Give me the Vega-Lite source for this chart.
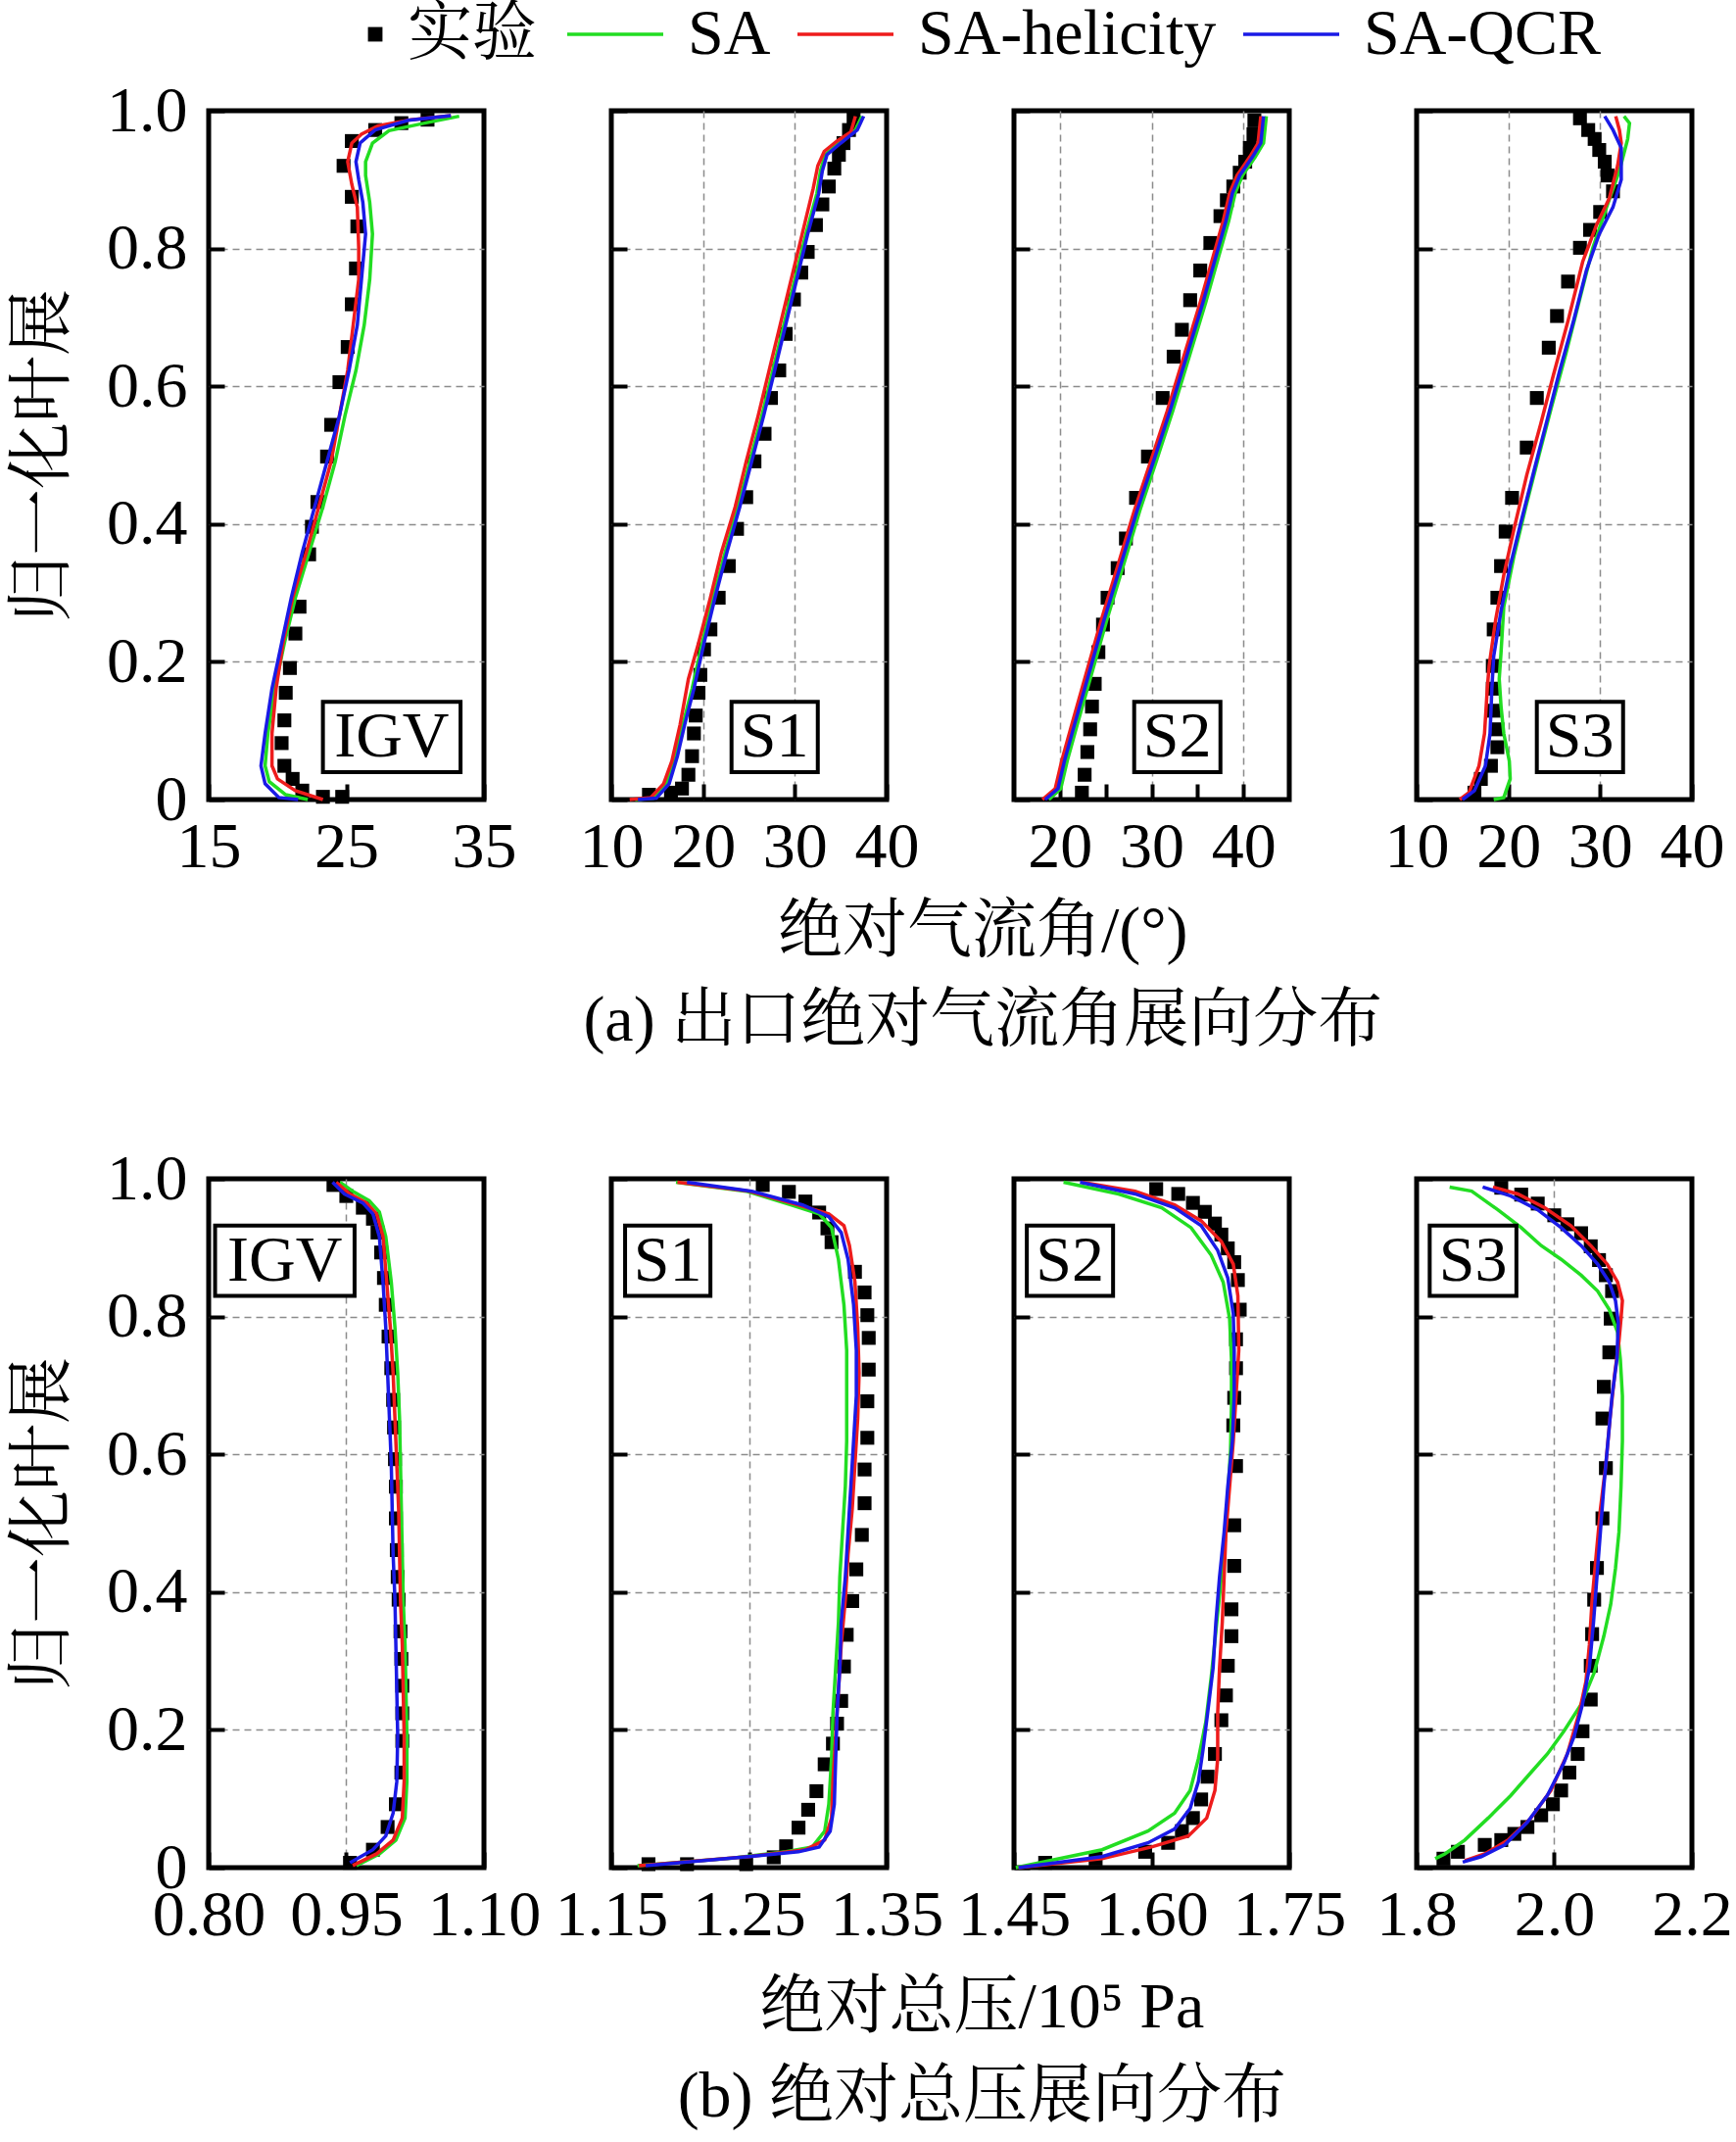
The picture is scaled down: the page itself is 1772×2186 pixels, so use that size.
{
  "$schema": "https://vega.github.io/schema/vega-lite/v6.json",
  "padding": {"left": 8, "top": -16, "right": 5, "bottom": 5},
  "background": "white",
  "datasets": {
    "b": [
      {"p": "aIGV", "t": "IGV", "x1": 23.3, "x2": 33.3, "y1": 0.04, "y2": 0.142, "xc": 28.3, "yc": 0.091},
      {"p": "aS1", "t": "S1", "x1": 23.1, "x2": 32.5, "y1": 0.04, "y2": 0.142, "xc": 27.8, "yc": 0.091},
      {"p": "aS2", "t": "S2", "x1": 28.1, "x2": 37.5, "y1": 0.04, "y2": 0.142, "xc": 32.8, "yc": 0.091},
      {"p": "aS3", "t": "S3", "x1": 23.1, "x2": 32.5, "y1": 0.04, "y2": 0.142, "xc": 27.8, "yc": 0.091},
      {"p": "bIGV", "t": "IGV", "x1": 0.807, "x2": 0.959, "y1": 0.83, "y2": 0.932, "xc": 0.883, "yc": 0.881},
      {"p": "bS1", "t": "S1", "x1": 1.16, "x2": 1.222, "y1": 0.83, "y2": 0.932, "xc": 1.191, "yc": 0.881},
      {"p": "bS2", "t": "S2", "x1": 1.464, "x2": 1.558, "y1": 0.83, "y2": 0.932, "xc": 1.511, "yc": 0.881},
      {"p": "bS3", "t": "S3", "x1": 1.819, "x2": 1.945, "y1": 0.83, "y2": 0.932, "xc": 1.882, "yc": 0.881}
    ],
    "d": [
      {"p":"aIGV","s":"实验","x":30.9,"y":0.987},{"p":"aIGV","s":"实验","x":29.0,"y":0.982},{"p":"aIGV","s":"实验","x":27.1,"y":0.972},{"p":"aIGV","s":"实验","x":25.4,"y":0.956},{"p":"aIGV","s":"实验","x":24.8,"y":0.92},{"p":"aIGV","s":"实验","x":25.4,"y":0.875},{"p":"aIGV","s":"实验","x":25.8,"y":0.832},{"p":"aIGV","s":"实验","x":25.7,"y":0.771},{"p":"aIGV","s":"实验","x":25.4,"y":0.719},{"p":"aIGV","s":"实验","x":25.1,"y":0.657},{"p":"aIGV","s":"实验","x":24.5,"y":0.606},{"p":"aIGV","s":"实验","x":23.9,"y":0.544},{"p":"aIGV","s":"实验","x":23.6,"y":0.498},{"p":"aIGV","s":"实验","x":22.9,"y":0.432},{"p":"aIGV","s":"实验","x":22.5,"y":0.396},{"p":"aIGV","s":"实验","x":22.3,"y":0.356},{"p":"aIGV","s":"实验","x":21.6,"y":0.28},{"p":"aIGV","s":"实验","x":21.3,"y":0.241},{"p":"aIGV","s":"实验","x":20.9,"y":0.191},{"p":"aIGV","s":"实验","x":20.6,"y":0.155},{"p":"aIGV","s":"实验","x":20.5,"y":0.115},{"p":"aIGV","s":"实验","x":20.3,"y":0.082},{"p":"aIGV","s":"实验","x":20.5,"y":0.049},{"p":"aIGV","s":"实验","x":21.1,"y":0.03},{"p":"aIGV","s":"实验","x":21.8,"y":0.013},{"p":"aIGV","s":"实验","x":23.3,"y":0.004},{"p":"aIGV","s":"实验","x":24.7,"y":0.004},
      {"p":"aIGV","s":"SA","x":22.2,"y":0},{"p":"aIGV","s":"SA","x":20.6,"y":0.007},{"p":"aIGV","s":"SA","x":19.4,"y":0.026},{"p":"aIGV","s":"SA","x":19.1,"y":0.049},{"p":"aIGV","s":"SA","x":19.3,"y":0.096},{"p":"aIGV","s":"SA","x":19.8,"y":0.161},{"p":"aIGV","s":"SA","x":20.5,"y":0.227},{"p":"aIGV","s":"SA","x":21.3,"y":0.293},{"p":"aIGV","s":"SA","x":22.3,"y":0.359},{"p":"aIGV","s":"SA","x":23.3,"y":0.425},{"p":"aIGV","s":"SA","x":24.2,"y":0.491},{"p":"aIGV","s":"SA","x":24.9,"y":0.557},{"p":"aIGV","s":"SA","x":25.7,"y":0.623},{"p":"aIGV","s":"SA","x":26.3,"y":0.689},{"p":"aIGV","s":"SA","x":26.7,"y":0.755},{"p":"aIGV","s":"SA","x":26.9,"y":0.821},{"p":"aIGV","s":"SA","x":26.7,"y":0.867},{"p":"aIGV","s":"SA","x":26.4,"y":0.906},{"p":"aIGV","s":"SA","x":26.4,"y":0.926},{"p":"aIGV","s":"SA","x":26.9,"y":0.953},{"p":"aIGV","s":"SA","x":28.1,"y":0.971},{"p":"aIGV","s":"SA","x":30.7,"y":0.982},{"p":"aIGV","s":"SA","x":33.2,"y":0.992},
      {"p":"aIGV","s":"SA-helicity","x":23.3,"y":0},{"p":"aIGV","s":"SA-helicity","x":21.3,"y":0.013},{"p":"aIGV","s":"SA-helicity","x":20.0,"y":0.03},{"p":"aIGV","s":"SA-helicity","x":19.6,"y":0.049},{"p":"aIGV","s":"SA-helicity","x":19.6,"y":0.096},{"p":"aIGV","s":"SA-helicity","x":19.9,"y":0.161},{"p":"aIGV","s":"SA-helicity","x":20.4,"y":0.227},{"p":"aIGV","s":"SA-helicity","x":21.1,"y":0.293},{"p":"aIGV","s":"SA-helicity","x":22.1,"y":0.359},{"p":"aIGV","s":"SA-helicity","x":23.0,"y":0.425},{"p":"aIGV","s":"SA-helicity","x":23.9,"y":0.491},{"p":"aIGV","s":"SA-helicity","x":24.5,"y":0.557},{"p":"aIGV","s":"SA-helicity","x":25.1,"y":0.623},{"p":"aIGV","s":"SA-helicity","x":25.5,"y":0.689},{"p":"aIGV","s":"SA-helicity","x":25.9,"y":0.755},{"p":"aIGV","s":"SA-helicity","x":25.9,"y":0.801},{"p":"aIGV","s":"SA-helicity","x":25.8,"y":0.86},{"p":"aIGV","s":"SA-helicity","x":25.4,"y":0.893},{"p":"aIGV","s":"SA-helicity","x":25.1,"y":0.926},{"p":"aIGV","s":"SA-helicity","x":25.4,"y":0.953},{"p":"aIGV","s":"SA-helicity","x":26.1,"y":0.966},{"p":"aIGV","s":"SA-helicity","x":27.3,"y":0.978},{"p":"aIGV","s":"SA-helicity","x":29.7,"y":0.987},{"p":"aIGV","s":"SA-helicity","x":32.6,"y":0.993},
      {"p":"aIGV","s":"SA-QCR","x":21.5,"y":0},{"p":"aIGV","s":"SA-QCR","x":20.1,"y":0.003},{"p":"aIGV","s":"SA-QCR","x":19.1,"y":0.023},{"p":"aIGV","s":"SA-QCR","x":18.8,"y":0.049},{"p":"aIGV","s":"SA-QCR","x":19.1,"y":0.096},{"p":"aIGV","s":"SA-QCR","x":19.6,"y":0.161},{"p":"aIGV","s":"SA-QCR","x":20.3,"y":0.227},{"p":"aIGV","s":"SA-QCR","x":21.0,"y":0.293},{"p":"aIGV","s":"SA-QCR","x":21.8,"y":0.359},{"p":"aIGV","s":"SA-QCR","x":22.7,"y":0.425},{"p":"aIGV","s":"SA-QCR","x":23.6,"y":0.491},{"p":"aIGV","s":"SA-QCR","x":24.5,"y":0.557},{"p":"aIGV","s":"SA-QCR","x":25.2,"y":0.623},{"p":"aIGV","s":"SA-QCR","x":25.8,"y":0.689},{"p":"aIGV","s":"SA-QCR","x":26.1,"y":0.755},{"p":"aIGV","s":"SA-QCR","x":26.4,"y":0.821},{"p":"aIGV","s":"SA-QCR","x":26.2,"y":0.867},{"p":"aIGV","s":"SA-QCR","x":25.9,"y":0.9},{"p":"aIGV","s":"SA-QCR","x":25.7,"y":0.926},{"p":"aIGV","s":"SA-QCR","x":26.0,"y":0.953},{"p":"aIGV","s":"SA-QCR","x":27.1,"y":0.972},{"p":"aIGV","s":"SA-QCR","x":29.5,"y":0.986},{"p":"aIGV","s":"SA-QCR","x":32.6,"y":0.993},

      {"p":"aS1","s":"实验","x":36.4,"y":0.989},{"p":"aS1","s":"实验","x":35.9,"y":0.972},{"p":"aS1","s":"实验","x":35.3,"y":0.953},{"p":"aS1","s":"实验","x":34.8,"y":0.936},{"p":"aS1","s":"实验","x":34.3,"y":0.916},{"p":"aS1","s":"实验","x":33.7,"y":0.89},{"p":"aS1","s":"实验","x":33.0,"y":0.864},{"p":"aS1","s":"实验","x":32.3,"y":0.834},{"p":"aS1","s":"实验","x":31.4,"y":0.795},{"p":"aS1","s":"实验","x":30.7,"y":0.765},{"p":"aS1","s":"实验","x":29.9,"y":0.726},{"p":"aS1","s":"实验","x":29.0,"y":0.676},{"p":"aS1","s":"实验","x":28.3,"y":0.623},{"p":"aS1","s":"实验","x":27.4,"y":0.583},{"p":"aS1","s":"实验","x":26.7,"y":0.531},{"p":"aS1","s":"实验","x":25.6,"y":0.491},{"p":"aS1","s":"实验","x":24.7,"y":0.439},{"p":"aS1","s":"实验","x":23.7,"y":0.393},{"p":"aS1","s":"实验","x":22.8,"y":0.339},{"p":"aS1","s":"实验","x":21.7,"y":0.293},{"p":"aS1","s":"实验","x":20.8,"y":0.247},{"p":"aS1","s":"实验","x":20.1,"y":0.218},{"p":"aS1","s":"实验","x":19.7,"y":0.181},{"p":"aS1","s":"实验","x":19.5,"y":0.155},{"p":"aS1","s":"实验","x":19.2,"y":0.122},{"p":"aS1","s":"实验","x":19.0,"y":0.096},{"p":"aS1","s":"实验","x":18.8,"y":0.063},{"p":"aS1","s":"实验","x":18.4,"y":0.036},{"p":"aS1","s":"实验","x":17.7,"y":0.016},{"p":"aS1","s":"实验","x":16.5,"y":0.01},{"p":"aS1","s":"实验","x":14.1,"y":0.007},
      {"p":"aS1","s":"SA","x":12.6,"y":0},{"p":"aS1","s":"SA","x":14.6,"y":0.002},{"p":"aS1","s":"SA","x":16.0,"y":0.023},{"p":"aS1","s":"SA","x":17.0,"y":0.063},{"p":"aS1","s":"SA","x":17.8,"y":0.109},{"p":"aS1","s":"SA","x":18.8,"y":0.161},{"p":"aS1","s":"SA","x":19.9,"y":0.227},{"p":"aS1","s":"SA","x":21.1,"y":0.293},{"p":"aS1","s":"SA","x":22.4,"y":0.359},{"p":"aS1","s":"SA","x":23.8,"y":0.425},{"p":"aS1","s":"SA","x":25.1,"y":0.491},{"p":"aS1","s":"SA","x":26.4,"y":0.557},{"p":"aS1","s":"SA","x":27.6,"y":0.623},{"p":"aS1","s":"SA","x":28.8,"y":0.689},{"p":"aS1","s":"SA","x":30.0,"y":0.755},{"p":"aS1","s":"SA","x":31.2,"y":0.821},{"p":"aS1","s":"SA","x":32.4,"y":0.88},{"p":"aS1","s":"SA","x":32.8,"y":0.913},{"p":"aS1","s":"SA","x":33.3,"y":0.936},{"p":"aS1","s":"SA","x":34.8,"y":0.953},{"p":"aS1","s":"SA","x":36.6,"y":0.972},{"p":"aS1","s":"SA","x":37.3,"y":0.992},
      {"p":"aS1","s":"SA-helicity","x":12.0,"y":0},{"p":"aS1","s":"SA-helicity","x":14.3,"y":0.003},{"p":"aS1","s":"SA-helicity","x":15.7,"y":0.023},{"p":"aS1","s":"SA-helicity","x":16.6,"y":0.056},{"p":"aS1","s":"SA-helicity","x":17.5,"y":0.109},{"p":"aS1","s":"SA-helicity","x":18.4,"y":0.175},{"p":"aS1","s":"SA-helicity","x":19.5,"y":0.227},{"p":"aS1","s":"SA-helicity","x":20.8,"y":0.293},{"p":"aS1","s":"SA-helicity","x":22.0,"y":0.359},{"p":"aS1","s":"SA-helicity","x":23.5,"y":0.425},{"p":"aS1","s":"SA-helicity","x":24.7,"y":0.491},{"p":"aS1","s":"SA-helicity","x":26.0,"y":0.557},{"p":"aS1","s":"SA-helicity","x":27.2,"y":0.623},{"p":"aS1","s":"SA-helicity","x":28.4,"y":0.689},{"p":"aS1","s":"SA-helicity","x":29.6,"y":0.755},{"p":"aS1","s":"SA-helicity","x":30.8,"y":0.821},{"p":"aS1","s":"SA-helicity","x":32.0,"y":0.887},{"p":"aS1","s":"SA-helicity","x":32.5,"y":0.92},{"p":"aS1","s":"SA-helicity","x":33.2,"y":0.941},{"p":"aS1","s":"SA-helicity","x":34.6,"y":0.956},{"p":"aS1","s":"SA-helicity","x":36.1,"y":0.969},{"p":"aS1","s":"SA-helicity","x":36.6,"y":0.992},
      {"p":"aS1","s":"SA-QCR","x":12.9,"y":0},{"p":"aS1","s":"SA-QCR","x":14.9,"y":0.002},{"p":"aS1","s":"SA-QCR","x":16.3,"y":0.023},{"p":"aS1","s":"SA-QCR","x":17.2,"y":0.063},{"p":"aS1","s":"SA-QCR","x":18.0,"y":0.109},{"p":"aS1","s":"SA-QCR","x":19.0,"y":0.161},{"p":"aS1","s":"SA-QCR","x":20.1,"y":0.227},{"p":"aS1","s":"SA-QCR","x":21.3,"y":0.293},{"p":"aS1","s":"SA-QCR","x":22.6,"y":0.359},{"p":"aS1","s":"SA-QCR","x":24.0,"y":0.425},{"p":"aS1","s":"SA-QCR","x":25.3,"y":0.491},{"p":"aS1","s":"SA-QCR","x":26.6,"y":0.557},{"p":"aS1","s":"SA-QCR","x":27.8,"y":0.623},{"p":"aS1","s":"SA-QCR","x":29.0,"y":0.689},{"p":"aS1","s":"SA-QCR","x":30.2,"y":0.755},{"p":"aS1","s":"SA-QCR","x":31.4,"y":0.821},{"p":"aS1","s":"SA-QCR","x":32.6,"y":0.88},{"p":"aS1","s":"SA-QCR","x":33.0,"y":0.913},{"p":"aS1","s":"SA-QCR","x":33.5,"y":0.936},{"p":"aS1","s":"SA-QCR","x":35.0,"y":0.953},{"p":"aS1","s":"SA-QCR","x":36.8,"y":0.972},{"p":"aS1","s":"SA-QCR","x":37.5,"y":0.992},

      {"p":"aS2","s":"实验","x":41.2,"y":0.986},{"p":"aS2","s":"实验","x":41.1,"y":0.966},{"p":"aS2","s":"实验","x":40.7,"y":0.946},{"p":"aS2","s":"实验","x":40.2,"y":0.926},{"p":"aS2","s":"实验","x":39.6,"y":0.91},{"p":"aS2","s":"实验","x":38.9,"y":0.89},{"p":"aS2","s":"实验","x":38.2,"y":0.87},{"p":"aS2","s":"实验","x":37.5,"y":0.847},{"p":"aS2","s":"实验","x":36.4,"y":0.808},{"p":"aS2","s":"实验","x":35.3,"y":0.768},{"p":"aS2","s":"实验","x":34.2,"y":0.725},{"p":"aS2","s":"实验","x":33.3,"y":0.682},{"p":"aS2","s":"实验","x":32.4,"y":0.643},{"p":"aS2","s":"实验","x":31.2,"y":0.583},{"p":"aS2","s":"实验","x":29.6,"y":0.498},{"p":"aS2","s":"实验","x":28.3,"y":0.438},{"p":"aS2","s":"实验","x":27.2,"y":0.379},{"p":"aS2","s":"实验","x":26.3,"y":0.336},{"p":"aS2","s":"实验","x":25.2,"y":0.293},{"p":"aS2","s":"实验","x":24.7,"y":0.254},{"p":"aS2","s":"实验","x":24.2,"y":0.214},{"p":"aS2","s":"实验","x":23.8,"y":0.168},{"p":"aS2","s":"实验","x":23.5,"y":0.135},{"p":"aS2","s":"实验","x":23.3,"y":0.102},{"p":"aS2","s":"实验","x":23.0,"y":0.069},{"p":"aS2","s":"实验","x":22.7,"y":0.036},{"p":"aS2","s":"实验","x":22.4,"y":0.01},
      {"p":"aS2","s":"SA","x":18.8,"y":0},{"p":"aS2","s":"SA","x":20.1,"y":0.016},{"p":"aS2","s":"SA","x":20.8,"y":0.056},{"p":"aS2","s":"SA","x":21.9,"y":0.109},{"p":"aS2","s":"SA","x":23.3,"y":0.175},{"p":"aS2","s":"SA","x":25.1,"y":0.26},{"p":"aS2","s":"SA","x":26.9,"y":0.339},{"p":"aS2","s":"SA","x":28.7,"y":0.419},{"p":"aS2","s":"SA","x":30.5,"y":0.491},{"p":"aS2","s":"SA","x":32.3,"y":0.564},{"p":"aS2","s":"SA","x":34.1,"y":0.643},{"p":"aS2","s":"SA","x":35.9,"y":0.722},{"p":"aS2","s":"SA","x":37.3,"y":0.788},{"p":"aS2","s":"SA","x":38.4,"y":0.84},{"p":"aS2","s":"SA","x":39.1,"y":0.88},{"p":"aS2","s":"SA","x":39.9,"y":0.906},{"p":"aS2","s":"SA","x":41.3,"y":0.933},{"p":"aS2","s":"SA","x":42.2,"y":0.953},{"p":"aS2","s":"SA","x":42.5,"y":0.992},
      {"p":"aS2","s":"SA-helicity","x":18.1,"y":0},{"p":"aS2","s":"SA-helicity","x":19.5,"y":0.016},{"p":"aS2","s":"SA-helicity","x":20.2,"y":0.056},{"p":"aS2","s":"SA-helicity","x":21.3,"y":0.109},{"p":"aS2","s":"SA-helicity","x":22.7,"y":0.175},{"p":"aS2","s":"SA-helicity","x":24.5,"y":0.26},{"p":"aS2","s":"SA-helicity","x":26.3,"y":0.339},{"p":"aS2","s":"SA-helicity","x":28.1,"y":0.419},{"p":"aS2","s":"SA-helicity","x":29.9,"y":0.491},{"p":"aS2","s":"SA-helicity","x":31.7,"y":0.564},{"p":"aS2","s":"SA-helicity","x":33.5,"y":0.643},{"p":"aS2","s":"SA-helicity","x":35.3,"y":0.722},{"p":"aS2","s":"SA-helicity","x":36.7,"y":0.788},{"p":"aS2","s":"SA-helicity","x":37.8,"y":0.84},{"p":"aS2","s":"SA-helicity","x":38.5,"y":0.88},{"p":"aS2","s":"SA-helicity","x":39.3,"y":0.906},{"p":"aS2","s":"SA-helicity","x":40.7,"y":0.933},{"p":"aS2","s":"SA-helicity","x":41.6,"y":0.953},{"p":"aS2","s":"SA-helicity","x":41.9,"y":0.992},
      {"p":"aS2","s":"SA-QCR","x":18.4,"y":0},{"p":"aS2","s":"SA-QCR","x":19.8,"y":0.016},{"p":"aS2","s":"SA-QCR","x":20.5,"y":0.056},{"p":"aS2","s":"SA-QCR","x":21.6,"y":0.109},{"p":"aS2","s":"SA-QCR","x":23.0,"y":0.175},{"p":"aS2","s":"SA-QCR","x":24.8,"y":0.26},{"p":"aS2","s":"SA-QCR","x":26.6,"y":0.339},{"p":"aS2","s":"SA-QCR","x":28.4,"y":0.419},{"p":"aS2","s":"SA-QCR","x":30.2,"y":0.491},{"p":"aS2","s":"SA-QCR","x":32.0,"y":0.564},{"p":"aS2","s":"SA-QCR","x":33.8,"y":0.643},{"p":"aS2","s":"SA-QCR","x":35.6,"y":0.722},{"p":"aS2","s":"SA-QCR","x":37.0,"y":0.788},{"p":"aS2","s":"SA-QCR","x":38.1,"y":0.84},{"p":"aS2","s":"SA-QCR","x":38.8,"y":0.88},{"p":"aS2","s":"SA-QCR","x":39.6,"y":0.906},{"p":"aS2","s":"SA-QCR","x":41.0,"y":0.933},{"p":"aS2","s":"SA-QCR","x":41.9,"y":0.953},{"p":"aS2","s":"SA-QCR","x":42.2,"y":0.992},

      {"p":"aS3","s":"实验","x":27.8,"y":0.989},{"p":"aS3","s":"实验","x":28.7,"y":0.972},{"p":"aS3","s":"实验","x":29.4,"y":0.959},{"p":"aS3","s":"实验","x":29.9,"y":0.943},{"p":"aS3","s":"实验","x":30.5,"y":0.926},{"p":"aS3","s":"实验","x":30.8,"y":0.906},{"p":"aS3","s":"实验","x":31.4,"y":0.883},{"p":"aS3","s":"实验","x":30.0,"y":0.853},{"p":"aS3","s":"实验","x":28.9,"y":0.827},{"p":"aS3","s":"实验","x":27.8,"y":0.801},{"p":"aS3","s":"实验","x":26.5,"y":0.752},{"p":"aS3","s":"实验","x":25.3,"y":0.702},{"p":"aS3","s":"实验","x":24.4,"y":0.656},{"p":"aS3","s":"实验","x":23.1,"y":0.583},{"p":"aS3","s":"实验","x":22.0,"y":0.511},{"p":"aS3","s":"实验","x":20.4,"y":0.438},{"p":"aS3","s":"实验","x":19.7,"y":0.389},{"p":"aS3","s":"实验","x":19.2,"y":0.339},{"p":"aS3","s":"实验","x":18.8,"y":0.293},{"p":"aS3","s":"实验","x":18.4,"y":0.247},{"p":"aS3","s":"实验","x":18.3,"y":0.194},{"p":"aS3","s":"实验","x":18.3,"y":0.161},{"p":"aS3","s":"实验","x":18.4,"y":0.129},{"p":"aS3","s":"实验","x":18.8,"y":0.102},{"p":"aS3","s":"实验","x":18.8,"y":0.076},{"p":"aS3","s":"实验","x":18.1,"y":0.049},{"p":"aS3","s":"实验","x":17.0,"y":0.03},{"p":"aS3","s":"实验","x":16.3,"y":0.01},
      {"p":"aS3","s":"SA","x":18.4,"y":0},{"p":"aS3","s":"SA","x":19.5,"y":0.003},{"p":"aS3","s":"SA","x":20.2,"y":0.03},{"p":"aS3","s":"SA","x":20.1,"y":0.056},{"p":"aS3","s":"SA","x":19.5,"y":0.096},{"p":"aS3","s":"SA","x":19.2,"y":0.135},{"p":"aS3","s":"SA","x":19.0,"y":0.175},{"p":"aS3","s":"SA","x":19.2,"y":0.214},{"p":"aS3","s":"SA","x":19.5,"y":0.28},{"p":"aS3","s":"SA","x":20.6,"y":0.353},{"p":"aS3","s":"SA","x":21.9,"y":0.425},{"p":"aS3","s":"SA","x":23.3,"y":0.498},{"p":"aS3","s":"SA","x":24.7,"y":0.57},{"p":"aS3","s":"SA","x":26.3,"y":0.649},{"p":"aS3","s":"SA","x":27.8,"y":0.728},{"p":"aS3","s":"SA","x":29.2,"y":0.801},{"p":"aS3","s":"SA","x":30.7,"y":0.86},{"p":"aS3","s":"SA","x":32.1,"y":0.913},{"p":"aS3","s":"SA","x":33.0,"y":0.959},{"p":"aS3","s":"SA","x":33.2,"y":0.982},{"p":"aS3","s":"SA","x":32.6,"y":0.992},
      {"p":"aS3","s":"SA-helicity","x":14.7,"y":0},{"p":"aS3","s":"SA-helicity","x":15.7,"y":0.01},{"p":"aS3","s":"SA-helicity","x":16.8,"y":0.049},{"p":"aS3","s":"SA-helicity","x":17.4,"y":0.096},{"p":"aS3","s":"SA-helicity","x":17.7,"y":0.161},{"p":"aS3","s":"SA-helicity","x":17.9,"y":0.194},{"p":"aS3","s":"SA-helicity","x":18.6,"y":0.26},{"p":"aS3","s":"SA-helicity","x":19.5,"y":0.326},{"p":"aS3","s":"SA-helicity","x":20.6,"y":0.392},{"p":"aS3","s":"SA-helicity","x":22.0,"y":0.471},{"p":"aS3","s":"SA-helicity","x":23.5,"y":0.544},{"p":"aS3","s":"SA-helicity","x":24.9,"y":0.616},{"p":"aS3","s":"SA-helicity","x":26.5,"y":0.695},{"p":"aS3","s":"SA-helicity","x":28.1,"y":0.781},{"p":"aS3","s":"SA-helicity","x":29.6,"y":0.834},{"p":"aS3","s":"SA-helicity","x":31.0,"y":0.873},{"p":"aS3","s":"SA-helicity","x":31.9,"y":0.92},{"p":"aS3","s":"SA-helicity","x":32.3,"y":0.953},{"p":"aS3","s":"SA-helicity","x":32.1,"y":0.972},{"p":"aS3","s":"SA-helicity","x":31.7,"y":0.992},
      {"p":"aS3","s":"SA-QCR","x":15.0,"y":0},{"p":"aS3","s":"SA-QCR","x":16.3,"y":0.013},{"p":"aS3","s":"SA-QCR","x":17.5,"y":0.049},{"p":"aS3","s":"SA-QCR","x":18.0,"y":0.096},{"p":"aS3","s":"SA-QCR","x":18.2,"y":0.161},{"p":"aS3","s":"SA-QCR","x":18.4,"y":0.208},{"p":"aS3","s":"SA-QCR","x":19.2,"y":0.274},{"p":"aS3","s":"SA-QCR","x":20.2,"y":0.339},{"p":"aS3","s":"SA-QCR","x":21.3,"y":0.399},{"p":"aS3","s":"SA-QCR","x":22.8,"y":0.478},{"p":"aS3","s":"SA-QCR","x":24.2,"y":0.55},{"p":"aS3","s":"SA-QCR","x":25.6,"y":0.623},{"p":"aS3","s":"SA-QCR","x":27.1,"y":0.695},{"p":"aS3","s":"SA-QCR","x":28.5,"y":0.768},{"p":"aS3","s":"SA-QCR","x":29.9,"y":0.821},{"p":"aS3","s":"SA-QCR","x":31.4,"y":0.86},{"p":"aS3","s":"SA-QCR","x":32.3,"y":0.9},{"p":"aS3","s":"SA-QCR","x":32.3,"y":0.946},{"p":"aS3","s":"SA-QCR","x":31.4,"y":0.972},{"p":"aS3","s":"SA-QCR","x":30.5,"y":0.992},

      {"p":"bIGV","s":"实验","x":0.936,"y":0.991},{"p":"bIGV","s":"实验","x":0.95,"y":0.975},{"p":"bIGV","s":"实验","x":0.968,"y":0.958},{"p":"bIGV","s":"实验","x":0.979,"y":0.942},{"p":"bIGV","s":"实验","x":0.984,"y":0.922},{"p":"bIGV","s":"实验","x":0.988,"y":0.893},{"p":"bIGV","s":"实验","x":0.991,"y":0.856},{"p":"bIGV","s":"实验","x":0.993,"y":0.817},{"p":"bIGV","s":"实验","x":0.996,"y":0.771},{"p":"bIGV","s":"实验","x":0.999,"y":0.725},{"p":"bIGV","s":"实验","x":1.001,"y":0.679},{"p":"bIGV","s":"实验","x":1.002,"y":0.639},{"p":"bIGV","s":"实验","x":1.003,"y":0.593},{"p":"bIGV","s":"实验","x":1.004,"y":0.553},{"p":"bIGV","s":"实验","x":1.004,"y":0.507},{"p":"bIGV","s":"实验","x":1.005,"y":0.461},{"p":"bIGV","s":"实验","x":1.006,"y":0.422},{"p":"bIGV","s":"实验","x":1.007,"y":0.389},{"p":"bIGV","s":"实验","x":1.009,"y":0.343},{"p":"bIGV","s":"实验","x":1.01,"y":0.303},{"p":"bIGV","s":"实验","x":1.011,"y":0.264},{"p":"bIGV","s":"实验","x":1.011,"y":0.224},{"p":"bIGV","s":"实验","x":1.011,"y":0.184},{"p":"bIGV","s":"实验","x":1.01,"y":0.138},{"p":"bIGV","s":"实验","x":1.004,"y":0.092},{"p":"bIGV","s":"实验","x":0.995,"y":0.059},{"p":"bIGV","s":"实验","x":0.979,"y":0.026},{"p":"bIGV","s":"实验","x":0.954,"y":0.007},
      {"p":"bIGV","s":"SA","x":0.943,"y":0.995},{"p":"bIGV","s":"SA","x":0.957,"y":0.982},{"p":"bIGV","s":"SA","x":0.975,"y":0.968},{"p":"bIGV","s":"SA","x":0.986,"y":0.952},{"p":"bIGV","s":"SA","x":0.993,"y":0.916},{"p":"bIGV","s":"SA","x":0.999,"y":0.85},{"p":"bIGV","s":"SA","x":1.003,"y":0.784},{"p":"bIGV","s":"SA","x":1.006,"y":0.718},{"p":"bIGV","s":"SA","x":1.008,"y":0.652},{"p":"bIGV","s":"SA","x":1.009,"y":0.586},{"p":"bIGV","s":"SA","x":1.01,"y":0.52},{"p":"bIGV","s":"SA","x":1.011,"y":0.455},{"p":"bIGV","s":"SA","x":1.012,"y":0.389},{"p":"bIGV","s":"SA","x":1.014,"y":0.323},{"p":"bIGV","s":"SA","x":1.015,"y":0.257},{"p":"bIGV","s":"SA","x":1.016,"y":0.191},{"p":"bIGV","s":"SA","x":1.016,"y":0.125},{"p":"bIGV","s":"SA","x":1.014,"y":0.072},{"p":"bIGV","s":"SA","x":1.004,"y":0.04},{"p":"bIGV","s":"SA","x":0.986,"y":0.02},{"p":"bIGV","s":"SA","x":0.961,"y":0.003},
      {"p":"bIGV","s":"SA-helicity","x":0.939,"y":0.995},{"p":"bIGV","s":"SA-helicity","x":0.954,"y":0.978},{"p":"bIGV","s":"SA-helicity","x":0.972,"y":0.965},{"p":"bIGV","s":"SA-helicity","x":0.983,"y":0.949},{"p":"bIGV","s":"SA-helicity","x":0.99,"y":0.916},{"p":"bIGV","s":"SA-helicity","x":0.994,"y":0.85},{"p":"bIGV","s":"SA-helicity","x":0.998,"y":0.784},{"p":"bIGV","s":"SA-helicity","x":1.001,"y":0.718},{"p":"bIGV","s":"SA-helicity","x":1.003,"y":0.652},{"p":"bIGV","s":"SA-helicity","x":1.005,"y":0.586},{"p":"bIGV","s":"SA-helicity","x":1.007,"y":0.52},{"p":"bIGV","s":"SA-helicity","x":1.008,"y":0.455},{"p":"bIGV","s":"SA-helicity","x":1.009,"y":0.389},{"p":"bIGV","s":"SA-helicity","x":1.011,"y":0.323},{"p":"bIGV","s":"SA-helicity","x":1.012,"y":0.257},{"p":"bIGV","s":"SA-helicity","x":1.013,"y":0.191},{"p":"bIGV","s":"SA-helicity","x":1.013,"y":0.125},{"p":"bIGV","s":"SA-helicity","x":1.011,"y":0.072},{"p":"bIGV","s":"SA-helicity","x":1.001,"y":0.04},{"p":"bIGV","s":"SA-helicity","x":0.983,"y":0.02},{"p":"bIGV","s":"SA-helicity","x":0.957,"y":0.003},
      {"p":"bIGV","s":"SA-QCR","x":0.935,"y":0.995},{"p":"bIGV","s":"SA-QCR","x":0.948,"y":0.978},{"p":"bIGV","s":"SA-QCR","x":0.968,"y":0.965},{"p":"bIGV","s":"SA-QCR","x":0.979,"y":0.949},{"p":"bIGV","s":"SA-QCR","x":0.986,"y":0.916},{"p":"bIGV","s":"SA-QCR","x":0.99,"y":0.85},{"p":"bIGV","s":"SA-QCR","x":0.993,"y":0.784},{"p":"bIGV","s":"SA-QCR","x":0.995,"y":0.718},{"p":"bIGV","s":"SA-QCR","x":0.997,"y":0.652},{"p":"bIGV","s":"SA-QCR","x":0.999,"y":0.586},{"p":"bIGV","s":"SA-QCR","x":1.0,"y":0.52},{"p":"bIGV","s":"SA-QCR","x":1.001,"y":0.455},{"p":"bIGV","s":"SA-QCR","x":1.003,"y":0.389},{"p":"bIGV","s":"SA-QCR","x":1.004,"y":0.323},{"p":"bIGV","s":"SA-QCR","x":1.005,"y":0.257},{"p":"bIGV","s":"SA-QCR","x":1.006,"y":0.191},{"p":"bIGV","s":"SA-QCR","x":1.005,"y":0.125},{"p":"bIGV","s":"SA-QCR","x":1.001,"y":0.079},{"p":"bIGV","s":"SA-QCR","x":0.993,"y":0.046},{"p":"bIGV","s":"SA-QCR","x":0.979,"y":0.026},{"p":"bIGV","s":"SA-QCR","x":0.954,"y":0.007},

      {"p":"bS1","s":"实验","x":1.26,"y":0.991},{"p":"bS1","s":"实验","x":1.279,"y":0.981},{"p":"bS1","s":"实验","x":1.291,"y":0.967},{"p":"bS1","s":"实验","x":1.301,"y":0.951},{"p":"bS1","s":"实验","x":1.307,"y":0.928},{"p":"bS1","s":"实验","x":1.31,"y":0.908},{"p":"bS1","s":"实验","x":1.327,"y":0.865},{"p":"bS1","s":"实验","x":1.334,"y":0.835},{"p":"bS1","s":"实验","x":1.336,"y":0.802},{"p":"bS1","s":"实验","x":1.337,"y":0.769},{"p":"bS1","s":"实验","x":1.337,"y":0.723},{"p":"bS1","s":"实验","x":1.336,"y":0.677},{"p":"bS1","s":"实验","x":1.336,"y":0.624},{"p":"bS1","s":"实验","x":1.334,"y":0.578},{"p":"bS1","s":"实验","x":1.334,"y":0.529},{"p":"bS1","s":"实验","x":1.332,"y":0.483},{"p":"bS1","s":"实验","x":1.328,"y":0.433},{"p":"bS1","s":"实验","x":1.325,"y":0.387},{"p":"bS1","s":"实验","x":1.321,"y":0.338},{"p":"bS1","s":"实验","x":1.319,"y":0.292},{"p":"bS1","s":"实验","x":1.317,"y":0.242},{"p":"bS1","s":"实验","x":1.314,"y":0.209},{"p":"bS1","s":"实验","x":1.311,"y":0.18},{"p":"bS1","s":"实验","x":1.305,"y":0.15},{"p":"bS1","s":"实验","x":1.299,"y":0.111},{"p":"bS1","s":"实验","x":1.293,"y":0.084},{"p":"bS1","s":"实验","x":1.286,"y":0.058},{"p":"bS1","s":"实验","x":1.277,"y":0.031},{"p":"bS1","s":"实验","x":1.268,"y":0.015},{"p":"bS1","s":"实验","x":1.248,"y":0.005},{"p":"bS1","s":"实验","x":1.205,"y":0.005},{"p":"bS1","s":"实验","x":1.177,"y":0.005},
      {"p":"bS1","s":"SA","x":1.197,"y":0.995},{"p":"bS1","s":"SA","x":1.248,"y":0.982},{"p":"bS1","s":"SA","x":1.281,"y":0.962},{"p":"bS1","s":"SA","x":1.301,"y":0.949},{"p":"bS1","s":"SA","x":1.31,"y":0.929},{"p":"bS1","s":"SA","x":1.315,"y":0.883},{"p":"bS1","s":"SA","x":1.319,"y":0.817},{"p":"bS1","s":"SA","x":1.321,"y":0.751},{"p":"bS1","s":"SA","x":1.321,"y":0.685},{"p":"bS1","s":"SA","x":1.321,"y":0.619},{"p":"bS1","s":"SA","x":1.32,"y":0.553},{"p":"bS1","s":"SA","x":1.318,"y":0.488},{"p":"bS1","s":"SA","x":1.316,"y":0.422},{"p":"bS1","s":"SA","x":1.315,"y":0.356},{"p":"bS1","s":"SA","x":1.313,"y":0.29},{"p":"bS1","s":"SA","x":1.311,"y":0.224},{"p":"bS1","s":"SA","x":1.31,"y":0.158},{"p":"bS1","s":"SA","x":1.308,"y":0.092},{"p":"bS1","s":"SA","x":1.305,"y":0.053},{"p":"bS1","s":"SA","x":1.296,"y":0.03},{"p":"bS1","s":"SA","x":1.277,"y":0.023},{"p":"bS1","s":"SA","x":1.238,"y":0.014},{"p":"bS1","s":"SA","x":1.169,"y":0.003},
      {"p":"bS1","s":"SA-helicity","x":1.198,"y":0.995},{"p":"bS1","s":"SA-helicity","x":1.25,"y":0.982},{"p":"bS1","s":"SA-helicity","x":1.286,"y":0.962},{"p":"bS1","s":"SA-helicity","x":1.308,"y":0.949},{"p":"bS1","s":"SA-helicity","x":1.319,"y":0.932},{"p":"bS1","s":"SA-helicity","x":1.323,"y":0.903},{"p":"bS1","s":"SA-helicity","x":1.327,"y":0.85},{"p":"bS1","s":"SA-helicity","x":1.329,"y":0.784},{"p":"bS1","s":"SA-helicity","x":1.33,"y":0.718},{"p":"bS1","s":"SA-helicity","x":1.329,"y":0.652},{"p":"bS1","s":"SA-helicity","x":1.327,"y":0.586},{"p":"bS1","s":"SA-helicity","x":1.325,"y":0.52},{"p":"bS1","s":"SA-helicity","x":1.322,"y":0.455},{"p":"bS1","s":"SA-helicity","x":1.32,"y":0.389},{"p":"bS1","s":"SA-helicity","x":1.317,"y":0.323},{"p":"bS1","s":"SA-helicity","x":1.315,"y":0.257},{"p":"bS1","s":"SA-helicity","x":1.313,"y":0.191},{"p":"bS1","s":"SA-helicity","x":1.311,"y":0.125},{"p":"bS1","s":"SA-helicity","x":1.31,"y":0.072},{"p":"bS1","s":"SA-helicity","x":1.305,"y":0.04},{"p":"bS1","s":"SA-helicity","x":1.291,"y":0.026},{"p":"bS1","s":"SA-helicity","x":1.25,"y":0.016},{"p":"bS1","s":"SA-helicity","x":1.17,"y":0.003},
      {"p":"bS1","s":"SA-QCR","x":1.205,"y":0.995},{"p":"bS1","s":"SA-QCR","x":1.252,"y":0.982},{"p":"bS1","s":"SA-QCR","x":1.289,"y":0.962},{"p":"bS1","s":"SA-QCR","x":1.308,"y":0.945},{"p":"bS1","s":"SA-QCR","x":1.317,"y":0.922},{"p":"bS1","s":"SA-QCR","x":1.322,"y":0.883},{"p":"bS1","s":"SA-QCR","x":1.326,"y":0.817},{"p":"bS1","s":"SA-QCR","x":1.328,"y":0.751},{"p":"bS1","s":"SA-QCR","x":1.328,"y":0.685},{"p":"bS1","s":"SA-QCR","x":1.326,"y":0.619},{"p":"bS1","s":"SA-QCR","x":1.324,"y":0.553},{"p":"bS1","s":"SA-QCR","x":1.322,"y":0.488},{"p":"bS1","s":"SA-QCR","x":1.32,"y":0.422},{"p":"bS1","s":"SA-QCR","x":1.317,"y":0.356},{"p":"bS1","s":"SA-QCR","x":1.316,"y":0.29},{"p":"bS1","s":"SA-QCR","x":1.314,"y":0.224},{"p":"bS1","s":"SA-QCR","x":1.313,"y":0.158},{"p":"bS1","s":"SA-QCR","x":1.312,"y":0.092},{"p":"bS1","s":"SA-QCR","x":1.309,"y":0.053},{"p":"bS1","s":"SA-QCR","x":1.301,"y":0.03},{"p":"bS1","s":"SA-QCR","x":1.286,"y":0.023},{"p":"bS1","s":"SA-QCR","x":1.25,"y":0.016},{"p":"bS1","s":"SA-QCR","x":1.175,"y":0.003},

      {"p":"bS2","s":"实验","x":1.605,"y":0.985},{"p":"bS2","s":"实验","x":1.629,"y":0.978},{"p":"bS2","s":"实验","x":1.645,"y":0.965},{"p":"bS2","s":"实验","x":1.658,"y":0.952},{"p":"bS2","s":"实验","x":1.669,"y":0.935},{"p":"bS2","s":"实验","x":1.676,"y":0.919},{"p":"bS2","s":"实验","x":1.683,"y":0.899},{"p":"bS2","s":"实验","x":1.69,"y":0.879},{"p":"bS2","s":"实验","x":1.694,"y":0.853},{"p":"bS2","s":"实验","x":1.696,"y":0.81},{"p":"bS2","s":"实验","x":1.692,"y":0.767},{"p":"bS2","s":"实验","x":1.692,"y":0.725},{"p":"bS2","s":"实验","x":1.69,"y":0.682},{"p":"bS2","s":"实验","x":1.689,"y":0.642},{"p":"bS2","s":"实验","x":1.692,"y":0.583},{"p":"bS2","s":"实验","x":1.69,"y":0.497},{"p":"bS2","s":"实验","x":1.69,"y":0.438},{"p":"bS2","s":"实验","x":1.687,"y":0.375},{"p":"bS2","s":"实验","x":1.687,"y":0.336},{"p":"bS2","s":"实验","x":1.683,"y":0.293},{"p":"bS2","s":"实验","x":1.681,"y":0.25},{"p":"bS2","s":"实验","x":1.676,"y":0.214},{"p":"bS2","s":"实验","x":1.669,"y":0.165},{"p":"bS2","s":"实验","x":1.661,"y":0.132},{"p":"bS2","s":"实验","x":1.654,"y":0.099},{"p":"bS2","s":"实验","x":1.645,"y":0.072},{"p":"bS2","s":"实验","x":1.633,"y":0.053},{"p":"bS2","s":"实验","x":1.618,"y":0.036},{"p":"bS2","s":"实验","x":1.593,"y":0.023},{"p":"bS2","s":"实验","x":1.539,"y":0.013},{"p":"bS2","s":"实验","x":1.484,"y":0.007},
      {"p":"bS2","s":"SA","x":1.504,"y":0.995},{"p":"bS2","s":"SA","x":1.564,"y":0.978},{"p":"bS2","s":"SA","x":1.611,"y":0.958},{"p":"bS2","s":"SA","x":1.643,"y":0.929},{"p":"bS2","s":"SA","x":1.665,"y":0.889},{"p":"bS2","s":"SA","x":1.678,"y":0.85},{"p":"bS2","s":"SA","x":1.685,"y":0.797},{"p":"bS2","s":"SA","x":1.687,"y":0.738},{"p":"bS2","s":"SA","x":1.687,"y":0.672},{"p":"bS2","s":"SA","x":1.686,"y":0.606},{"p":"bS2","s":"SA","x":1.683,"y":0.54},{"p":"bS2","s":"SA","x":1.68,"y":0.474},{"p":"bS2","s":"SA","x":1.675,"y":0.408},{"p":"bS2","s":"SA","x":1.67,"y":0.343},{"p":"bS2","s":"SA","x":1.665,"y":0.277},{"p":"bS2","s":"SA","x":1.659,"y":0.211},{"p":"bS2","s":"SA","x":1.651,"y":0.158},{"p":"bS2","s":"SA","x":1.642,"y":0.112},{"p":"bS2","s":"SA","x":1.625,"y":0.079},{"p":"bS2","s":"SA","x":1.596,"y":0.053},{"p":"bS2","s":"SA","x":1.546,"y":0.026},{"p":"bS2","s":"SA","x":1.452,"y":0},
      {"p":"bS2","s":"SA-helicity","x":1.524,"y":0.995},{"p":"bS2","s":"SA-helicity","x":1.582,"y":0.982},{"p":"bS2","s":"SA-helicity","x":1.625,"y":0.962},{"p":"bS2","s":"SA-helicity","x":1.654,"y":0.939},{"p":"bS2","s":"SA-helicity","x":1.676,"y":0.909},{"p":"bS2","s":"SA-helicity","x":1.689,"y":0.876},{"p":"bS2","s":"SA-helicity","x":1.694,"y":0.83},{"p":"bS2","s":"SA-helicity","x":1.695,"y":0.751},{"p":"bS2","s":"SA-helicity","x":1.692,"y":0.685},{"p":"bS2","s":"SA-helicity","x":1.689,"y":0.619},{"p":"bS2","s":"SA-helicity","x":1.685,"y":0.553},{"p":"bS2","s":"SA-helicity","x":1.681,"y":0.487},{"p":"bS2","s":"SA-helicity","x":1.679,"y":0.422},{"p":"bS2","s":"SA-helicity","x":1.677,"y":0.356},{"p":"bS2","s":"SA-helicity","x":1.674,"y":0.29},{"p":"bS2","s":"SA-helicity","x":1.672,"y":0.224},{"p":"bS2","s":"SA-helicity","x":1.672,"y":0.158},{"p":"bS2","s":"SA-helicity","x":1.669,"y":0.112},{"p":"bS2","s":"SA-helicity","x":1.66,"y":0.072},{"p":"bS2","s":"SA-helicity","x":1.64,"y":0.046},{"p":"bS2","s":"SA-helicity","x":1.6,"y":0.03},{"p":"bS2","s":"SA-helicity","x":1.546,"y":0.013},{"p":"bS2","s":"SA-helicity","x":1.455,"y":0},
      {"p":"bS2","s":"SA-QCR","x":1.522,"y":0.995},{"p":"bS2","s":"SA-QCR","x":1.582,"y":0.978},{"p":"bS2","s":"SA-QCR","x":1.625,"y":0.958},{"p":"bS2","s":"SA-QCR","x":1.654,"y":0.932},{"p":"bS2","s":"SA-QCR","x":1.672,"y":0.896},{"p":"bS2","s":"SA-QCR","x":1.683,"y":0.856},{"p":"bS2","s":"SA-QCR","x":1.689,"y":0.804},{"p":"bS2","s":"SA-QCR","x":1.69,"y":0.751},{"p":"bS2","s":"SA-QCR","x":1.69,"y":0.685},{"p":"bS2","s":"SA-QCR","x":1.688,"y":0.619},{"p":"bS2","s":"SA-QCR","x":1.683,"y":0.553},{"p":"bS2","s":"SA-QCR","x":1.679,"y":0.487},{"p":"bS2","s":"SA-QCR","x":1.674,"y":0.422},{"p":"bS2","s":"SA-QCR","x":1.67,"y":0.356},{"p":"bS2","s":"SA-QCR","x":1.667,"y":0.29},{"p":"bS2","s":"SA-QCR","x":1.661,"y":0.224},{"p":"bS2","s":"SA-QCR","x":1.656,"y":0.171},{"p":"bS2","s":"SA-QCR","x":1.651,"y":0.125},{"p":"bS2","s":"SA-QCR","x":1.642,"y":0.086},{"p":"bS2","s":"SA-QCR","x":1.625,"y":0.056},{"p":"bS2","s":"SA-QCR","x":1.596,"y":0.036},{"p":"bS2","s":"SA-QCR","x":1.546,"y":0.016},{"p":"bS2","s":"SA-QCR","x":1.455,"y":0},

      {"p":"bS3","s":"实验","x":1.923,"y":0.987},{"p":"bS3","s":"实验","x":1.952,"y":0.977},{"p":"bS3","s":"实验","x":1.976,"y":0.964},{"p":"bS3","s":"实验","x":2.0,"y":0.947},{"p":"bS3","s":"实验","x":2.019,"y":0.934},{"p":"bS3","s":"实验","x":2.039,"y":0.921},{"p":"bS3","s":"实验","x":2.053,"y":0.902},{"p":"bS3","s":"实验","x":2.065,"y":0.882},{"p":"bS3","s":"实验","x":2.075,"y":0.86},{"p":"bS3","s":"实验","x":2.084,"y":0.837},{"p":"bS3","s":"实验","x":2.082,"y":0.797},{"p":"bS3","s":"实验","x":2.08,"y":0.748},{"p":"bS3","s":"实验","x":2.072,"y":0.698},{"p":"bS3","s":"实验","x":2.07,"y":0.652},{"p":"bS3","s":"实验","x":2.075,"y":0.58},{"p":"bS3","s":"实验","x":2.07,"y":0.507},{"p":"bS3","s":"实验","x":2.062,"y":0.435},{"p":"bS3","s":"实验","x":2.058,"y":0.389},{"p":"bS3","s":"实验","x":2.055,"y":0.339},{"p":"bS3","s":"实验","x":2.053,"y":0.293},{"p":"bS3","s":"实验","x":2.053,"y":0.244},{"p":"bS3","s":"实验","x":2.041,"y":0.198},{"p":"bS3","s":"实验","x":2.034,"y":0.165},{"p":"bS3","s":"实验","x":2.022,"y":0.138},{"p":"bS3","s":"实验","x":2.01,"y":0.112},{"p":"bS3","s":"实验","x":1.998,"y":0.092},{"p":"bS3","s":"实验","x":1.981,"y":0.076},{"p":"bS3","s":"实验","x":1.961,"y":0.059},{"p":"bS3","s":"实验","x":1.942,"y":0.049},{"p":"bS3","s":"实验","x":1.923,"y":0.04},{"p":"bS3","s":"实验","x":1.899,"y":0.033},{"p":"bS3","s":"实验","x":1.86,"y":0.023},{"p":"bS3","s":"实验","x":1.839,"y":0.013},
      {"p":"bS3","s":"SA","x":1.848,"y":0.988},{"p":"bS3","s":"SA","x":1.88,"y":0.982},{"p":"bS3","s":"SA","x":1.918,"y":0.955},{"p":"bS3","s":"SA","x":1.952,"y":0.929},{"p":"bS3","s":"SA","x":1.981,"y":0.903},{"p":"bS3","s":"SA","x":2.01,"y":0.883},{"p":"bS3","s":"SA","x":2.039,"y":0.86},{"p":"bS3","s":"SA","x":2.063,"y":0.837},{"p":"bS3","s":"SA","x":2.08,"y":0.81},{"p":"bS3","s":"SA","x":2.092,"y":0.777},{"p":"bS3","s":"SA","x":2.096,"y":0.738},{"p":"bS3","s":"SA","x":2.099,"y":0.685},{"p":"bS3","s":"SA","x":2.099,"y":0.619},{"p":"bS3","s":"SA","x":2.097,"y":0.553},{"p":"bS3","s":"SA","x":2.094,"y":0.487},{"p":"bS3","s":"SA","x":2.089,"y":0.435},{"p":"bS3","s":"SA","x":2.082,"y":0.382},{"p":"bS3","s":"SA","x":2.072,"y":0.336},{"p":"bS3","s":"SA","x":2.058,"y":0.283},{"p":"bS3","s":"SA","x":2.039,"y":0.237},{"p":"bS3","s":"SA","x":2.014,"y":0.198},{"p":"bS3","s":"SA","x":1.99,"y":0.165},{"p":"bS3","s":"SA","x":1.966,"y":0.138},{"p":"bS3","s":"SA","x":1.937,"y":0.105},{"p":"bS3","s":"SA","x":1.904,"y":0.072},{"p":"bS3","s":"SA","x":1.87,"y":0.04},{"p":"bS3","s":"SA","x":1.841,"y":0.02},{"p":"bS3","s":"SA","x":1.827,"y":0.013},
      {"p":"bS3","s":"SA-helicity","x":1.911,"y":0.988},{"p":"bS3","s":"SA-helicity","x":1.947,"y":0.978},{"p":"bS3","s":"SA-helicity","x":1.986,"y":0.958},{"p":"bS3","s":"SA-helicity","x":2.024,"y":0.932},{"p":"bS3","s":"SA-helicity","x":2.053,"y":0.903},{"p":"bS3","s":"SA-helicity","x":2.077,"y":0.876},{"p":"bS3","s":"SA-helicity","x":2.092,"y":0.85},{"p":"bS3","s":"SA-helicity","x":2.099,"y":0.823},{"p":"bS3","s":"SA-helicity","x":2.097,"y":0.797},{"p":"bS3","s":"SA-helicity","x":2.094,"y":0.764},{"p":"bS3","s":"SA-helicity","x":2.088,"y":0.718},{"p":"bS3","s":"SA-helicity","x":2.081,"y":0.652},{"p":"bS3","s":"SA-helicity","x":2.075,"y":0.586},{"p":"bS3","s":"SA-helicity","x":2.067,"y":0.52},{"p":"bS3","s":"SA-helicity","x":2.061,"y":0.455},{"p":"bS3","s":"SA-helicity","x":2.055,"y":0.389},{"p":"bS3","s":"SA-helicity","x":2.051,"y":0.323},{"p":"bS3","s":"SA-helicity","x":2.046,"y":0.27},{"p":"bS3","s":"SA-helicity","x":2.036,"y":0.224},{"p":"bS3","s":"SA-helicity","x":2.019,"y":0.165},{"p":"bS3","s":"SA-helicity","x":1.995,"y":0.112},{"p":"bS3","s":"SA-helicity","x":1.966,"y":0.072},{"p":"bS3","s":"SA-helicity","x":1.933,"y":0.04},{"p":"bS3","s":"SA-helicity","x":1.899,"y":0.02},{"p":"bS3","s":"SA-helicity","x":1.87,"y":0.01},
      {"p":"bS3","s":"SA-QCR","x":1.896,"y":0.988},{"p":"bS3","s":"SA-QCR","x":1.937,"y":0.975},{"p":"bS3","s":"SA-QCR","x":1.976,"y":0.955},{"p":"bS3","s":"SA-QCR","x":2.01,"y":0.929},{"p":"bS3","s":"SA-QCR","x":2.039,"y":0.903},{"p":"bS3","s":"SA-QCR","x":2.063,"y":0.876},{"p":"bS3","s":"SA-QCR","x":2.08,"y":0.85},{"p":"bS3","s":"SA-QCR","x":2.089,"y":0.823},{"p":"bS3","s":"SA-QCR","x":2.093,"y":0.791},{"p":"bS3","s":"SA-QCR","x":2.091,"y":0.738},{"p":"bS3","s":"SA-QCR","x":2.084,"y":0.685},{"p":"bS3","s":"SA-QCR","x":2.078,"y":0.619},{"p":"bS3","s":"SA-QCR","x":2.072,"y":0.553},{"p":"bS3","s":"SA-QCR","x":2.067,"y":0.487},{"p":"bS3","s":"SA-QCR","x":2.062,"y":0.422},{"p":"bS3","s":"SA-QCR","x":2.057,"y":0.356},{"p":"bS3","s":"SA-QCR","x":2.051,"y":0.29},{"p":"bS3","s":"SA-QCR","x":2.041,"y":0.237},{"p":"bS3","s":"SA-QCR","x":2.029,"y":0.191},{"p":"bS3","s":"SA-QCR","x":2.014,"y":0.152},{"p":"bS3","s":"SA-QCR","x":1.99,"y":0.105},{"p":"bS3","s":"SA-QCR","x":1.961,"y":0.066},{"p":"bS3","s":"SA-QCR","x":1.928,"y":0.033},{"p":"bS3","s":"SA-QCR","x":1.894,"y":0.016},{"p":"bS3","s":"SA-QCR","x":1.867,"y":0.008}
    ]
  },
  "vconcat": [
    {
      "bounds": "flush",
      "spacing": 130,
      "title": {"text": ["绝对气流角/(°)", "(a) 出口绝对气流角展向分布"], "orient": "bottom", "anchor": "middle", "frame": "bounds", "offset": 19, "dx": 118},
      "hconcat": [
        {
          "width": 281, "height": 703,
          "layer": [
            {"data": {"name": "d"}, "transform": [{"filter": "datum.p == 'aIGV' && datum.s == '实验'"}],
             "mark": {"type": "point", "filled": true, "size": 200, "opacity": 1, "color": "black"},
             "encoding": {
               "x": {"field": "x", "type": "quantitative", "title": null, "scale": {"domain": [15, 35], "nice": false, "zero": false}, "axis": {"values": [15, 25, 35], "grid": false}},
               "y": {"field": "y", "type": "quantitative", "title": "归一化叶展", "scale": {"domain": [0, 1], "nice": false, "zero": false}, "axis": {"values": [0, 0.2, 0.4, 0.6, 0.8, 1], "labelExpr": "datum.value == 0 ? '0' : format(datum.value, '.1f')", "gridOpacity": {"condition": {"test": "datum.value == 0 || datum.value == 1", "value": 0}, "value": 1}}},
               "shape": {"field": "s", "type": "nominal", "scale": {"domain": ["实验"], "range": ["square"]},
                 "legend": {"orient": "none", "legendX": 137, "legendY": -111, "title": null, "labelFontSize": 66, "labelColor": "black", "labelOffset": 0, "labelLimit": 1000, "symbolSize": 220, "symbolFillColor": "black", "symbolStrokeColor": "black", "symbolStrokeWidth": 0, "symbolOpacity": 1}}
             }},
            {"data": {"name": "d"}, "transform": [{"filter": "datum.p == 'aIGV' && datum.s != '实验'"}],
             "mark": {"type": "line", "strokeWidth": 3.5},
             "encoding": {"x": {"field": "x", "type": "quantitative", "title": null}, "y": {"field": "y", "type": "quantitative", "title": "归一化叶展"},
               "color": {"field": "s", "type": "nominal", "scale": {"domain": ["SA", "SA-helicity", "SA-QCR"], "range": ["#22dd22", "#ee1c1c", "#1a1ae6"]},
                 "legend": {"orient": "none", "legendX": 364, "legendY": -129, "direction": "horizontal", "title": null, "labelFontSize": 66, "labelColor": "black", "labelOffset": 23, "labelLimit": 1000, "columnPadding": 20, "symbolType": "stroke", "symbolSize": 9604, "symbolStrokeWidth": 3.5, "symbolOpacity": 1}},
               "order": {"field": "y", "type": "quantitative"}}},
            {"data": {"name": "b"}, "transform": [{"filter": "datum.p == 'aIGV'"}],
             "mark": {"type": "rect", "fill": "white", "stroke": "black", "strokeWidth": 4},
             "encoding": {"x": {"field": "x1", "type": "quantitative", "title": null}, "x2": {"field": "x2"}, "y": {"field": "y1", "type": "quantitative", "title": "归一化叶展"}, "y2": {"field": "y2"}}},
            {"data": {"name": "b"}, "transform": [{"filter": "datum.p == 'aIGV'"}],
             "mark": {"type": "text", "fontSize": 66, "color": "black"},
             "encoding": {"x": {"field": "xc", "type": "quantitative", "title": null}, "y": {"field": "yc", "type": "quantitative", "title": "归一化叶展"}, "text": {"field": "t"}}}
          ]
        },
        {
          "width": 281, "height": 703,
          "layer": [
            {"data": {"name": "d"}, "transform": [{"filter": "datum.p == 'aS1' && datum.s == '实验'"}],
             "mark": {"type": "point", "filled": true, "size": 200, "opacity": 1, "color": "black"},
             "encoding": {
               "x": {"field": "x", "type": "quantitative", "title": null, "scale": {"domain": [10, 40], "nice": false, "zero": false}, "axis": {"values": [10, 20, 30, 40], "gridOpacity": {"condition": {"test": "datum.value == 10 || datum.value == 40", "value": 0}, "value": 1}}},
               "y": {"field": "y", "type": "quantitative", "title": null, "scale": {"domain": [0, 1], "nice": false, "zero": false}, "axis": {"values": [0, 0.2, 0.4, 0.6, 0.8, 1], "labels": false, "gridOpacity": {"condition": {"test": "datum.value == 0 || datum.value == 1", "value": 0}, "value": 1}}},
               "shape": {"field": "s", "type": "nominal"}
             }},
            {"data": {"name": "d"}, "transform": [{"filter": "datum.p == 'aS1' && datum.s != '实验'"}],
             "mark": {"type": "line", "strokeWidth": 3.5},
             "encoding": {"x": {"field": "x", "type": "quantitative", "title": null}, "y": {"field": "y", "type": "quantitative", "title": null}, "color": {"field": "s", "type": "nominal"}, "order": {"field": "y", "type": "quantitative"}}},
            {"data": {"name": "b"}, "transform": [{"filter": "datum.p == 'aS1'"}],
             "mark": {"type": "rect", "fill": "white", "stroke": "black", "strokeWidth": 4},
             "encoding": {"x": {"field": "x1", "type": "quantitative", "title": null}, "x2": {"field": "x2"}, "y": {"field": "y1", "type": "quantitative", "title": null}, "y2": {"field": "y2"}}},
            {"data": {"name": "b"}, "transform": [{"filter": "datum.p == 'aS1'"}],
             "mark": {"type": "text", "fontSize": 66, "color": "black"},
             "encoding": {"x": {"field": "xc", "type": "quantitative", "title": null}, "y": {"field": "yc", "type": "quantitative", "title": null}, "text": {"field": "t"}}}
          ]
        },
        {
          "width": 281, "height": 703,
          "layer": [
            {"data": {"name": "d"}, "transform": [{"filter": "datum.p == 'aS2' && datum.s == '实验'"}],
             "mark": {"type": "point", "filled": true, "size": 200, "opacity": 1, "color": "black"},
             "encoding": {
               "x": {"field": "x", "type": "quantitative", "title": null, "scale": {"domain": [15, 45], "nice": false, "zero": false}, "axis": {"values": [20, 25, 30, 35, 40], "labelExpr": "datum.value % 10 == 0 ? datum.label : ''", "gridOpacity": {"condition": {"test": "datum.value == 25 || datum.value == 35", "value": 0}, "value": 1}}},
               "y": {"field": "y", "type": "quantitative", "title": null, "scale": {"domain": [0, 1], "nice": false, "zero": false}, "axis": {"values": [0, 0.2, 0.4, 0.6, 0.8, 1], "labels": false, "gridOpacity": {"condition": {"test": "datum.value == 0 || datum.value == 1", "value": 0}, "value": 1}}},
               "shape": {"field": "s", "type": "nominal"}
             }},
            {"data": {"name": "d"}, "transform": [{"filter": "datum.p == 'aS2' && datum.s != '实验'"}],
             "mark": {"type": "line", "strokeWidth": 3.5},
             "encoding": {"x": {"field": "x", "type": "quantitative", "title": null}, "y": {"field": "y", "type": "quantitative", "title": null}, "color": {"field": "s", "type": "nominal"}, "order": {"field": "y", "type": "quantitative"}}},
            {"data": {"name": "b"}, "transform": [{"filter": "datum.p == 'aS2'"}],
             "mark": {"type": "rect", "fill": "white", "stroke": "black", "strokeWidth": 4},
             "encoding": {"x": {"field": "x1", "type": "quantitative", "title": null}, "x2": {"field": "x2"}, "y": {"field": "y1", "type": "quantitative", "title": null}, "y2": {"field": "y2"}}},
            {"data": {"name": "b"}, "transform": [{"filter": "datum.p == 'aS2'"}],
             "mark": {"type": "text", "fontSize": 66, "color": "black"},
             "encoding": {"x": {"field": "xc", "type": "quantitative", "title": null}, "y": {"field": "yc", "type": "quantitative", "title": null}, "text": {"field": "t"}}}
          ]
        },
        {
          "width": 281, "height": 703,
          "layer": [
            {"data": {"name": "d"}, "transform": [{"filter": "datum.p == 'aS3' && datum.s == '实验'"}],
             "mark": {"type": "point", "filled": true, "size": 200, "opacity": 1, "color": "black"},
             "encoding": {
               "x": {"field": "x", "type": "quantitative", "title": null, "scale": {"domain": [10, 40], "nice": false, "zero": false}, "axis": {"values": [10, 20, 30, 40], "gridOpacity": {"condition": {"test": "datum.value == 10 || datum.value == 40", "value": 0}, "value": 1}}},
               "y": {"field": "y", "type": "quantitative", "title": null, "scale": {"domain": [0, 1], "nice": false, "zero": false}, "axis": {"values": [0, 0.2, 0.4, 0.6, 0.8, 1], "labels": false, "gridOpacity": {"condition": {"test": "datum.value == 0 || datum.value == 1", "value": 0}, "value": 1}}},
               "shape": {"field": "s", "type": "nominal"}
             }},
            {"data": {"name": "d"}, "transform": [{"filter": "datum.p == 'aS3' && datum.s != '实验'"}],
             "mark": {"type": "line", "strokeWidth": 3.5},
             "encoding": {"x": {"field": "x", "type": "quantitative", "title": null}, "y": {"field": "y", "type": "quantitative", "title": null}, "color": {"field": "s", "type": "nominal"}, "order": {"field": "y", "type": "quantitative"}}},
            {"data": {"name": "b"}, "transform": [{"filter": "datum.p == 'aS3'"}],
             "mark": {"type": "rect", "fill": "white", "stroke": "black", "strokeWidth": 4},
             "encoding": {"x": {"field": "x1", "type": "quantitative", "title": null}, "x2": {"field": "x2"}, "y": {"field": "y1", "type": "quantitative", "title": null}, "y2": {"field": "y2"}}},
            {"data": {"name": "b"}, "transform": [{"filter": "datum.p == 'aS3'"}],
             "mark": {"type": "text", "fontSize": 66, "color": "black"},
             "encoding": {"x": {"field": "xc", "type": "quantitative", "title": null}, "y": {"field": "yc", "type": "quantitative", "title": null}, "text": {"field": "t"}}}
          ]
        }
      ]
    },
    {
      "bounds": "flush",
      "spacing": 130,
      "title": {"text": ["绝对总压/10⁵ Pa", "(b) 绝对总压展向分布"], "orient": "bottom", "anchor": "middle", "frame": "bounds", "offset": 27, "dx": 113},
      "hconcat": [
        {
          "width": 281, "height": 703,
          "layer": [
            {"data": {"name": "d"}, "transform": [{"filter": "datum.p == 'bIGV' && datum.s == '实验'"}],
             "mark": {"type": "point", "filled": true, "size": 200, "opacity": 1, "color": "black"},
             "encoding": {
               "x": {"field": "x", "type": "quantitative", "title": null, "scale": {"domain": [0.8, 1.1], "nice": false, "zero": false}, "axis": {"values": [0.8, 0.95, 1.1], "format": ".2f", "gridOpacity": {"condition": {"test": "datum.value < 0.81 || datum.value > 1.09", "value": 0}, "value": 1}}},
               "y": {"field": "y", "type": "quantitative", "title": "归一化叶展", "scale": {"domain": [0, 1], "nice": false, "zero": false}, "axis": {"values": [0, 0.2, 0.4, 0.6, 0.8, 1], "labelExpr": "datum.value == 0 ? '0' : format(datum.value, '.1f')", "gridOpacity": {"condition": {"test": "datum.value == 0 || datum.value == 1", "value": 0}, "value": 1}}},
               "shape": {"field": "s", "type": "nominal"}
             }},
            {"data": {"name": "d"}, "transform": [{"filter": "datum.p == 'bIGV' && datum.s != '实验'"}],
             "mark": {"type": "line", "strokeWidth": 3.5},
             "encoding": {"x": {"field": "x", "type": "quantitative", "title": null}, "y": {"field": "y", "type": "quantitative", "title": "归一化叶展"}, "color": {"field": "s", "type": "nominal"}, "order": {"field": "y", "type": "quantitative"}}},
            {"data": {"name": "b"}, "transform": [{"filter": "datum.p == 'bIGV'"}],
             "mark": {"type": "rect", "fill": "white", "stroke": "black", "strokeWidth": 4},
             "encoding": {"x": {"field": "x1", "type": "quantitative", "title": null}, "x2": {"field": "x2"}, "y": {"field": "y1", "type": "quantitative", "title": "归一化叶展"}, "y2": {"field": "y2"}}},
            {"data": {"name": "b"}, "transform": [{"filter": "datum.p == 'bIGV'"}],
             "mark": {"type": "text", "fontSize": 66, "color": "black"},
             "encoding": {"x": {"field": "xc", "type": "quantitative", "title": null}, "y": {"field": "yc", "type": "quantitative", "title": "归一化叶展"}, "text": {"field": "t"}}}
          ]
        },
        {
          "width": 281, "height": 703,
          "layer": [
            {"data": {"name": "d"}, "transform": [{"filter": "datum.p == 'bS1' && datum.s == '实验'"}],
             "mark": {"type": "point", "filled": true, "size": 200, "opacity": 1, "color": "black"},
             "encoding": {
               "x": {"field": "x", "type": "quantitative", "title": null, "scale": {"domain": [1.15, 1.35], "nice": false, "zero": false}, "axis": {"values": [1.15, 1.25, 1.35], "format": ".2f", "gridOpacity": {"condition": {"test": "datum.value < 1.16 || datum.value > 1.34", "value": 0}, "value": 1}}},
               "y": {"field": "y", "type": "quantitative", "title": null, "scale": {"domain": [0, 1], "nice": false, "zero": false}, "axis": {"values": [0, 0.2, 0.4, 0.6, 0.8, 1], "labels": false, "gridOpacity": {"condition": {"test": "datum.value == 0 || datum.value == 1", "value": 0}, "value": 1}}},
               "shape": {"field": "s", "type": "nominal"}
             }},
            {"data": {"name": "d"}, "transform": [{"filter": "datum.p == 'bS1' && datum.s != '实验'"}],
             "mark": {"type": "line", "strokeWidth": 3.5},
             "encoding": {"x": {"field": "x", "type": "quantitative", "title": null}, "y": {"field": "y", "type": "quantitative", "title": null}, "color": {"field": "s", "type": "nominal"}, "order": {"field": "y", "type": "quantitative"}}},
            {"data": {"name": "b"}, "transform": [{"filter": "datum.p == 'bS1'"}],
             "mark": {"type": "rect", "fill": "white", "stroke": "black", "strokeWidth": 4},
             "encoding": {"x": {"field": "x1", "type": "quantitative", "title": null}, "x2": {"field": "x2"}, "y": {"field": "y1", "type": "quantitative", "title": null}, "y2": {"field": "y2"}}},
            {"data": {"name": "b"}, "transform": [{"filter": "datum.p == 'bS1'"}],
             "mark": {"type": "text", "fontSize": 66, "color": "black"},
             "encoding": {"x": {"field": "xc", "type": "quantitative", "title": null}, "y": {"field": "yc", "type": "quantitative", "title": null}, "text": {"field": "t"}}}
          ]
        },
        {
          "width": 281, "height": 703,
          "layer": [
            {"data": {"name": "d"}, "transform": [{"filter": "datum.p == 'bS2' && datum.s == '实验'"}],
             "mark": {"type": "point", "filled": true, "size": 200, "opacity": 1, "color": "black"},
             "encoding": {
               "x": {"field": "x", "type": "quantitative", "title": null, "scale": {"domain": [1.45, 1.75], "nice": false, "zero": false}, "axis": {"values": [1.45, 1.6, 1.75], "format": ".2f", "grid": false}},
               "y": {"field": "y", "type": "quantitative", "title": null, "scale": {"domain": [0, 1], "nice": false, "zero": false}, "axis": {"values": [0, 0.2, 0.4, 0.6, 0.8, 1], "labels": false, "gridOpacity": {"condition": {"test": "datum.value == 0 || datum.value == 1", "value": 0}, "value": 1}}},
               "shape": {"field": "s", "type": "nominal"}
             }},
            {"data": {"name": "d"}, "transform": [{"filter": "datum.p == 'bS2' && datum.s != '实验'"}],
             "mark": {"type": "line", "strokeWidth": 3.5},
             "encoding": {"x": {"field": "x", "type": "quantitative", "title": null}, "y": {"field": "y", "type": "quantitative", "title": null}, "color": {"field": "s", "type": "nominal"}, "order": {"field": "y", "type": "quantitative"}}},
            {"data": {"name": "b"}, "transform": [{"filter": "datum.p == 'bS2'"}],
             "mark": {"type": "rect", "fill": "white", "stroke": "black", "strokeWidth": 4},
             "encoding": {"x": {"field": "x1", "type": "quantitative", "title": null}, "x2": {"field": "x2"}, "y": {"field": "y1", "type": "quantitative", "title": null}, "y2": {"field": "y2"}}},
            {"data": {"name": "b"}, "transform": [{"filter": "datum.p == 'bS2'"}],
             "mark": {"type": "text", "fontSize": 66, "color": "black"},
             "encoding": {"x": {"field": "xc", "type": "quantitative", "title": null}, "y": {"field": "yc", "type": "quantitative", "title": null}, "text": {"field": "t"}}}
          ]
        },
        {
          "width": 281, "height": 703,
          "layer": [
            {"data": {"name": "d"}, "transform": [{"filter": "datum.p == 'bS3' && datum.s == '实验'"}],
             "mark": {"type": "point", "filled": true, "size": 200, "opacity": 1, "color": "black"},
             "encoding": {
               "x": {"field": "x", "type": "quantitative", "title": null, "scale": {"domain": [1.8, 2.2], "nice": false, "zero": false}, "axis": {"values": [1.8, 2.0, 2.2], "format": ".1f", "gridOpacity": {"condition": {"test": "datum.value < 1.81 || datum.value > 2.19", "value": 0}, "value": 1}}},
               "y": {"field": "y", "type": "quantitative", "title": null, "scale": {"domain": [0, 1], "nice": false, "zero": false}, "axis": {"values": [0, 0.2, 0.4, 0.6, 0.8, 1], "labels": false, "gridOpacity": {"condition": {"test": "datum.value == 0 || datum.value == 1", "value": 0}, "value": 1}}},
               "shape": {"field": "s", "type": "nominal"}
             }},
            {"data": {"name": "d"}, "transform": [{"filter": "datum.p == 'bS3' && datum.s != '实验'"}],
             "mark": {"type": "line", "strokeWidth": 3.5},
             "encoding": {"x": {"field": "x", "type": "quantitative", "title": null}, "y": {"field": "y", "type": "quantitative", "title": null}, "color": {"field": "s", "type": "nominal"}, "order": {"field": "y", "type": "quantitative"}}},
            {"data": {"name": "b"}, "transform": [{"filter": "datum.p == 'bS3'"}],
             "mark": {"type": "rect", "fill": "white", "stroke": "black", "strokeWidth": 4},
             "encoding": {"x": {"field": "x1", "type": "quantitative", "title": null}, "x2": {"field": "x2"}, "y": {"field": "y1", "type": "quantitative", "title": null}, "y2": {"field": "y2"}}},
            {"data": {"name": "b"}, "transform": [{"filter": "datum.p == 'bS3'"}],
             "mark": {"type": "text", "fontSize": 66, "color": "black"},
             "encoding": {"x": {"field": "xc", "type": "quantitative", "title": null}, "y": {"field": "yc", "type": "quantitative", "title": null}, "text": {"field": "t"}}}
          ]
        }
      ]
    }
  ],
  "spacing": 92,
  "config": {
    "font": "Liberation Serif, Noto Serif CJK SC, Noto Sans CJK SC",
    "view": {"stroke": "black", "strokeWidth": 5, "fill": "white"},
    "axis": {
      "domain": false, "ticks": true, "tickSize": -16, "tickWidth": 4, "tickColor": "black",
      "grid": true, "gridColor": "#8c8c8c", "gridDash": [7, 5], "gridWidth": 1.5,
      "labelFont": "Liberation Serif", "labelFontSize": 66, "labelColor": "black", "labelFlush": false, "labelOverlap": false,
      "titleFont": "Liberation Serif, Noto Serif CJK SC, Noto Sans CJK SC", "titleFontSize": 68, "titleFontWeight": "normal", "titleColor": "black"
    },
    "axisX": {"labelPadding": 32},
    "axisY": {"labelPadding": 38, "titlePadding": 30},
    "legend": {"labelFont": "Liberation Serif, Noto Serif CJK SC, Noto Sans CJK SC"},
    "title": {"font": "Liberation Serif, Noto Serif CJK SC, Noto Sans CJK SC", "fontSize": 66, "fontWeight": "normal", "color": "black", "lineHeight": 91},
    "text": {"font": "Liberation Serif"}
  }
}
